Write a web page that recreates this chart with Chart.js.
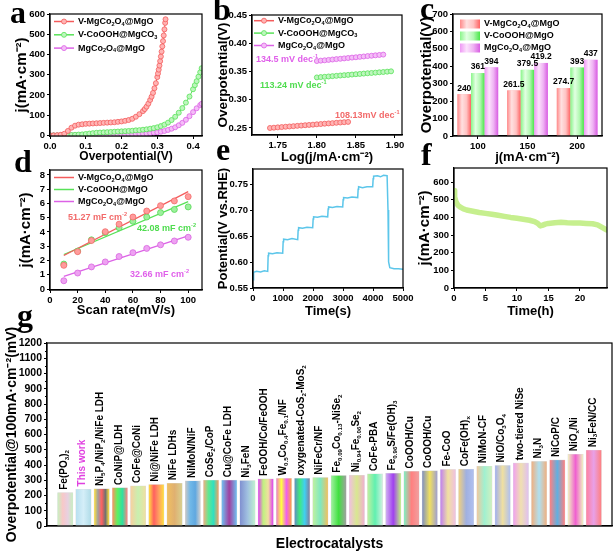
<!DOCTYPE html>
<html>
<head>
<meta charset="utf-8">
<script src="https://cdn.jsdelivr.net/npm/chart.js@4.4.1/dist/chart.umd.min.js"></script>
<style>
  body { margin: 0; background: #fff; }
  #wrap { position: relative; width: 614px; height: 553px; overflow: hidden; }
  #wrap canvas { position: absolute; }
</style>
</head>
<body>
<div id="wrap"></div>
<script>
const W = 614, H = 553;
const FONT = '"Liberation Sans", Arial, Helvetica, sans-serif';
const RED = '#f45c5c', RED_L = '#ffb4b4';
const GRN = '#58e258', GRN_L = '#bdf6bd';
const MAG = '#dc62e6', MAG_L = '#f4bdf7';

// ---- (a) LSV : [overpotential V, j mA/cm2]
const namesAB = ['V-MgCo_{2}O_{4}@MgO', 'V-CoOOH@MgCO_{3}', 'MgCo_{2}O_{4}@MgO'];
const namesCD = ['V-MgCo_{2}O_{4}@MgO', 'V-CoOOH@MgO', 'MgCo_{2}O_{4}@MgO'];
const lsvRed = [[0,0],[0.01,0],[0.02,1],[0.03,3],[0.04,8],[0.05,22],[0.06,38],[0.07,48],[0.08,53],[0.09,55],[0.10,57],[0.11,58],[0.12,59],[0.13,60],[0.14,61],[0.15,62],[0.16,63],[0.17,64],[0.18,65],[0.19,67],[0.20,69],[0.21,72],[0.22,76],[0.23,82],[0.24,92],[0.25,105],[0.26,120],[0.265,130],[0.27,142],[0.275,157],[0.28,175],[0.284,191],[0.288,210],[0.292,233],[0.296,258],[0.300,288],[0.302,306],[0.304,325],[0.306,345],[0.308,367],[0.310,390],[0.312,414],[0.314,440],[0.316,466],[0.318,494],[0.320,524],[0.322,556],[0.323,574]];
const lsvGreen = [[0,0],[0.01,0],[0.02,0],[0.03,0],[0.04,1],[0.05,1],[0.06,2],[0.07,3],[0.08,4],[0.09,5],[0.10,7],[0.11,9],[0.12,11],[0.13,13],[0.14,14],[0.15,15],[0.16,16],[0.17,17],[0.18,18],[0.19,19],[0.20,20],[0.21,21],[0.22,22],[0.23,23],[0.24,25],[0.25,26],[0.26,28],[0.27,30],[0.28,33],[0.29,36],[0.30,40],[0.31,46],[0.32,53],[0.33,63],[0.34,76],[0.35,92],[0.36,112],[0.37,135],[0.38,162],[0.39,192],[0.40,228],[0.405,248],[0.41,268],[0.415,290],[0.42,312],[0.424,332]];
const lsvMag = [[0,0],[0.01,0],[0.02,0],[0.03,0],[0.04,0],[0.05,0],[0.06,1],[0.07,1],[0.08,1],[0.09,1],[0.10,1],[0.11,1],[0.12,2],[0.13,2],[0.14,2],[0.15,2],[0.16,3],[0.17,3],[0.18,3],[0.19,4],[0.20,4],[0.21,4],[0.22,5],[0.23,5],[0.24,6],[0.25,7],[0.26,8],[0.27,9],[0.28,11],[0.29,13],[0.30,15],[0.31,18],[0.32,22],[0.33,27],[0.34,33],[0.35,40],[0.36,50],[0.37,62],[0.38,77],[0.39,95],[0.40,115],[0.41,134],[0.42,150],[0.424,156]];
const aXTicks = [0, 0.1, 0.2, 0.3, 0.4];
const aYTicks = [0, 100, 200, 300, 400, 500, 600];

// ---- (b) Tafel : [log j, overpotential V]
const tafelRed = [[1.740,0.2500],[1.745,0.2505],[1.750,0.2511],[1.755,0.2516],[1.760,0.2522],[1.765,0.2527],[1.770,0.2532],[1.775,0.2538],[1.780,0.2543],[1.785,0.2549],[1.790,0.2554],[1.795,0.2559],[1.800,0.2565],[1.805,0.2570],[1.810,0.2576],[1.815,0.2581],[1.820,0.2586],[1.825,0.2592],[1.830,0.2597],[1.835,0.2603],[1.840,0.2608]];
const tafelGreen = [[1.800,0.3395],[1.805,0.3401],[1.810,0.3406],[1.815,0.3412],[1.820,0.3418],[1.825,0.3423],[1.830,0.3429],[1.835,0.3435],[1.840,0.3440],[1.845,0.3446],[1.850,0.3452],[1.855,0.3457],[1.860,0.3463],[1.865,0.3469],[1.870,0.3474],[1.875,0.3480],[1.880,0.3486],[1.885,0.3491],[1.890,0.3497],[1.895,0.3503]];
const tafelMag = [[1.800,0.3685],[1.805,0.3692],[1.810,0.3698],[1.815,0.3705],[1.820,0.3712],[1.825,0.3719],[1.830,0.3725],[1.835,0.3732],[1.840,0.3739],[1.845,0.3746],[1.850,0.3752],[1.855,0.3759],[1.860,0.3766],[1.865,0.3773],[1.870,0.3779],[1.875,0.3786],[1.880,0.3793],[1.885,0.3799]];
const tafelSlopes = ['108.13mV dec^{-1}', '113.24 mV dec^{-1}', '134.5 mV dec^{-1}'];
const bXTicks = [1.75, 1.80, 1.85, 1.90];
const bYTicks = [0.25, 0.30, 0.35, 0.40, 0.45];

// ---- (c) overpotential at current densities
const currents = ['100', '150', '200'];
const etaRed = [240, 261.5, 274.7];
const etaGreen = [361, 379.5, 393];
const etaMag = [394, 419.2, 437];
const cYTicks = [0, 100, 200, 300, 400, 500, 600, 700];

// ---- (d) Cdl
const scanRates = [10, 20, 30, 40, 50, 60, 70, 80, 90, 100];
const cdlRed = [1.66, 2.62, 3.40, 4.02, 4.55, 5.05, 5.47, 5.85, 6.18, 6.48];
const cdlGreen = [1.75, 2.66, 3.45, 3.95, 4.30, 4.75, 5.05, 5.36, 5.58, 5.76];
const cdlMag = [0.58, 1.12, 1.55, 1.90, 2.28, 2.55, 2.85, 3.10, 3.37, 3.63];
const fitRed = [[10, 2.35], [100, 6.83]];
const fitGreen = [[10, 2.42], [100, 6.13]];
const fitMag = [[10, 0.89], [100, 3.73]];
const cdlValues = ['51.27 mF cm^{-2}', '42.08 mF cm^{-2}', '32.66 mF cm^{-2}'];
const dXTicks = [0, 20, 40, 60, 80, 100];
const dYTicks = [0, 1, 2, 3, 4, 5, 6, 7, 8];

// ---- (e) multi-step chronopotentiometry : [time s, potential V]
const ePotential = [[0,0.566],[20,0.580],[120,0.582],[250,0.581],[380,0.583],[490,0.582],[505,0.612],[520,0.617],[650,0.616],[800,0.618],[990,0.617],[1005,0.639],[1020,0.644],[1150,0.643],[1300,0.645],[1490,0.643],[1505,0.661],[1520,0.666],[1650,0.665],[1800,0.667],[1990,0.666],[2005,0.683],[2020,0.687],[2150,0.686],[2300,0.688],[2490,0.687],[2505,0.702],[2520,0.706],[2650,0.705],[2800,0.707],[2990,0.706],[3005,0.720],[3020,0.724],[3150,0.723],[3300,0.725],[3490,0.724],[3505,0.740],[3520,0.745],[3650,0.743],[3800,0.745],[3990,0.745],[4005,0.760],[4020,0.765],[4150,0.766],[4250,0.764],[4350,0.767],[4470,0.766],[4500,0.700],[4520,0.600],[4560,0.589],[4700,0.587],[4850,0.587],[5000,0.586]];
const eXTicks = [0, 1000, 2000, 3000, 4000, 5000];
const eYTicks = [0.55, 0.60, 0.65, 0.70, 0.75];

// ---- (f) stability : [time h, j]
const fCurrent = [[0,552],[0.1,515],[0.3,490],[0.6,470],[1,458],[1.5,448],[2,442],[3,435],[4,428],[5,423],[6,418],[7,412],[8,406],[9,400],[10,395],[11,390],[12,384],[12.8,376],[13.3,366],[13.7,352],[14.0,355],[14.5,362],[15,366],[16,370],[17,372],[18,370],[19,369],[20,368],[21,366],[22,364],[22.8,358],[23.3,348],[23.8,338],[24.2,330]];
const fXTicks = [0, 5, 10, 15, 20];
const fYTicks = [0, 100, 200, 300, 400, 500, 600];

// ---- (g) comparison
const catalysts = ['Fe(PO_{3})_{2}', 'This work', 'Ni_{5}P_{4}/NiP_{2}/NiFe LDH', 'CoNiP@LDH', 'CoFe@CoNi', 'Ni@NiFe LDH', 'NiFe LDHs', 'NiMoN/NiF', 'CoSe_{2}/CoP', 'Cu@CoFe LDH', 'Ni_{3}FeN', 'FeOOH/Co/FeOOH', 'W_{0.5}Co_{0.4}Fe_{0.1}/NF', 'oxygenated-CoS_{2}-MoS_{2}', 'NiFeCr/NF', 'Fe_{0.09}Co_{0.13}-NiSe_{2}', 'Ni_{0.94}Fe_{0.06}Se_{2}', 'CoFe-PBA', 'Fe_{0.96}S/Fe(OH)_{3}', 'CoOOH/Cu', 'CoOOH/Cu', 'Fe-CoO', 'CoFe(OH)_{x}', 'NiMoN-CF', 'NiO/Co_{3}O_{4}', 'two-tiered NiSe', 'Ni_{3}N', 'NiCoP/C', 'NiO_{x}/Ni', 'Ni_{3}FeN/CC'];
const catEta = [218, 240, 243, 250, 262, 271, 280, 295, 300, 300, 297, 308, 312, 312, 317, 330, 332, 341, 345, 358, 361, 370, 372, 392, 396, 412, 423, 432, 470, 497];
const gYTicks = [0, 100, 200, 300, 400, 500, 600, 700, 800, 900, 1000, 1100, 1200];

// bar stripe colours
const cStops = [['#ff8a8a', '#ffe0e0', '#ffc2c2', '#ff6262'], ['#8af58a', '#e2ffe2', '#b2f8b2', '#48e648'], ['#ee98f4', '#fce2fd', '#efb2f3', '#d85ce2']];
const stripes = [
  ['#c8f0c0', '#f8c8c8', '#e8d0e0', '#c8f0c0'], ['#b8e0f0', '#d4eef8', '#b0dce8'],
  ['#ffe040', '#a0a0a0', '#ff6060', '#707070', '#ffe040'], ['#ff9060', '#60f060', '#30e0a0', '#ff8080'],
  ['#f8d0a0', '#c8f0b0', '#f0e0a0'], ['#ffe040', '#ff6060', '#ffa060', '#ffe040'],
  ['#f0c060', '#e0b070', '#d8d090'], ['#c8c8c8', '#70b8e8', '#60a8e0', '#d0d0d0'],
  ['#f0b080', '#60e890', '#30e0c0', '#f0a060'], ['#70c0f0', '#a040a0', '#70c0f0'],
  ['#8090d0', '#a0c0e0', '#c0f0d0'], ['#e040f0', '#c0f080', '#f0e0a0', '#e040f0'],
  ['#f080c0', '#ffff40', '#f060f0', '#ffa040'], ['#6090c0', '#40e880', '#40d0f0', '#8080a0'],
  ['#c0f0a0', '#80e8c0', '#f0c060'], ['#a0f0a0', '#40e040', '#a0a0a0'],
  ['#f0c0e0', '#d8e890', '#f0b0d0'], ['#c0f0a0', '#60f0b0', '#d0f0e0'],
  ['#d0b0f0', '#a040f0', '#c0f080'], ['#80f0c0', '#ff8080', '#f0a0a0'],
  ['#8090c0', '#f0e060', '#a0a0d0'], ['#c080f0', '#f0e0a0', '#f0c0e0'],
  ['#f0d080', '#a0b0e0', '#b0c0f0'], ['#f0c8a0', '#a0f0d0', '#d0f0c0'],
  ['#a0b0f0', '#f0e0a0', '#b0c0f0'], ['#f0a0f0', '#f0e0b0', '#e0c0f0'],
  ['#f0b080', '#b0e0f0', '#f0b080'], ['#ff8080', '#60b0e0', '#ff8080'],
  ['#f0f0c0', '#f060d0', '#f0f0c0'], ['#ff80a0', '#e8a0e8', '#ff8080']
];

Chart.defaults.font.family = FONT;
Chart.defaults.font.weight = 'bold';
Chart.defaults.color = '#000';

// one canvas per panel, each only as big as its own panel
const wrap = document.getElementById('wrap');
function makeCanvas(box) {
  const c = document.createElement('canvas');
  c.width = box.w; c.height = box.h;
  c.style.left = box.x + 'px';
  c.style.top = box.y + 'px';
  wrap.appendChild(c);
  return c;
}

// "_{..}" subscript, "^{..}" superscript
function richParts(s) {
  const out = [];
  let buf = '', i = 0;
  while (i < s.length) {
    const c = s[i];
    if ((c === '_' || c === '^') && s[i + 1] === '{') {
      if (buf) out.push({t: buf, m: 0});
      buf = '';
      const j = s.indexOf('}', i);
      out.push({t: s.slice(i + 2, j), m: c === '_' ? 1 : -1});
      i = j + 1;
    } else { buf += c; i++; }
  }
  if (buf) out.push({t: buf, m: 0});
  return out;
}
const plain = s => richParts(s).map(p => p.t).join('');

function drawRich(ctx, s, x, y, size, color, align) {
  const parts = richParts(s);
  ctx.fillStyle = color;
  ctx.textBaseline = 'middle';
  ctx.textAlign = 'left';
  const fonts = parts.map(p => 'bold ' + (p.m ? size * 0.62 : size) + 'px ' + FONT);
  const widths = parts.map((p, k) => { ctx.font = fonts[k]; return ctx.measureText(p.t).width; });
  const total = widths.reduce((a, b) => a + b, 0);
  if (align === 'center') x -= total / 2;
  parts.forEach((p, k) => {
    ctx.font = fonts[k];
    const dy = p.m === 1 ? size * 0.3 : p.m === -1 ? -size * 0.38 : 0;
    ctx.fillText(p.t, x, y + dy);
    x += widths[k];
  });
}

function stripeGradient(ctx, x0, x1, stops) {
  const g = ctx.createLinearGradient(x0, 0, x1, 0);
  stops.forEach((c, k) => g.addColorStop(k / (stops.length - 1), c));
  return g;
}

function drawLegend(ctx, lg) {
  lg.items.forEach((it, i) => {
    const x = lg.x, y = lg.y + i * lg.gap;
    if (lg.style === 'box') {
      ctx.fillStyle = stripeGradient(ctx, x, x + 20, it.stops);
      ctx.fillRect(x, y - 4.5, 20, 9);
    } else {
      ctx.strokeStyle = it.color;
      ctx.lineWidth = 1.5;
      ctx.beginPath(); ctx.moveTo(x, y); ctx.lineTo(x + 20, y); ctx.stroke();
      if (lg.style === 'linePoint') {
        ctx.beginPath(); ctx.arc(x + 10, y, 2.5, 0, Math.PI * 2);
        ctx.fillStyle = it.fill; ctx.fill();
        ctx.lineWidth = 0.8; ctx.stroke();
      }
    }
    drawRich(ctx, it.text, x + 24, y, 9, '#000', 'left');
  });
}

// frame, legend, notes and panel letter (legend/notes/letter given in page coords)
function deco(box, cfg) {
  return {
    id: 'deco',
    afterDatasetsDraw(chart) {
      if (cfg.bars) {
        const ctx = chart.ctx;
        ctx.save();
        chart.data.datasets.forEach((ds, d) => {
          chart.getDatasetMeta(d).data.forEach((bar, i) => {
            const l = bar.x - bar.width / 2;
            ctx.fillStyle = stripeGradient(ctx, l, l + bar.width, cfg.bars(d, i));
            ctx.fillRect(l, bar.y, bar.width, bar.base - bar.y);
          });
        });
        ctx.restore();
      }
    },
    afterDraw(chart) {
      const ctx = chart.ctx, a = chart.chartArea;
      ctx.save();
      ctx.strokeStyle = '#000';
      ctx.lineWidth = 1.2;
      ctx.strokeRect(a.left, a.top, a.right - a.left, a.bottom - a.top);
      if (cfg.extra) cfg.extra(chart, ctx);
      ctx.translate(-box.x, -box.y);
      if (cfg.legend) drawLegend(ctx, cfg.legend);
      (cfg.notes || []).forEach(n => drawRich(ctx, n.text, n.x, n.y, 9, n.color, 'left'));
      if (cfg.letter) {
        ctx.font = 'bold 32px "Liberation Serif", "Times New Roman", serif';
        ctx.fillStyle = '#000';
        ctx.textBaseline = 'alphabetic';
        ctx.textAlign = 'left';
        ctx.fillText(cfg.letter[0], cfg.letter[1], cfg.letter[2]);
      }
      ctx.restore();
    }
  };
}

// place the plot box and axis titles (page coords) inside the panel canvas
function frame(p, box) {
  const lhY = p.ySize * 1.2, lhX = p.xSize * 1.2;
  const padL = p.yTitleX - lhY / 2;
  const xBottom = p.xTitleY + lhX / 2;
  return {
    padding: {left: padL - box.x, top: p.t - box.y, right: box.x + box.w - p.r, bottom: box.y + box.h - xBottom},
    yW: p.l - padL,
    xH: xBottom - p.b
  };
}

function axis(pos, size, o) {
  const horiz = pos === 'bottom';
  const showTicks = o.ticks !== null;
  const ax = {
    type: o.type || 'linear', position: pos, offset: !!o.offset, bounds: 'data',
    afterFit: s => { if (horiz) s.height = size; else s.width = size; },
    ticks: {display: showTicks, color: '#000', font: {size: o.tickSize || 9.5, weight: 'bold'}, padding: 2, maxRotation: 0, autoSkip: false},
    grid: {display: true, drawOnChartArea: false, drawTicks: showTicks, tickLength: 3, color: '#000', offset: false},
    border: {display: true, color: '#000', width: 1.2},
    title: {display: true, text: o.title, color: '#000', font: {size: o.titleSize, weight: 'bold'}, padding: 0}
  };
  if (o.min !== undefined) { ax.min = o.min; ax.max = o.max; }
  if (o.ticks) {
    ax.afterBuildTicks = s => { s.ticks = o.ticks.map(v => ({value: v})); };
    const fmt = o.fmt || (v => String(v));
    ax.ticks.callback = v => fmt(v);
  }
  return ax;
}

function baseOptions(f, scales) {
  return {
    responsive: false, animation: false,
    layout: {padding: f.padding},
    plugins: {legend: {display: false}, tooltip: {enabled: false}},
    scales: scales
  };
}

const toXY = arr => arr.map(p => ({x: p[0], y: p[1]}));

function pointLine(arr, color, fill, name) {
  return {
    label: plain(name), data: toXY(arr), showLine: true, borderColor: color, borderWidth: 1,
    pointRadius: 2.5, pointBorderWidth: 0.8, pointBackgroundColor: fill, pointBorderColor: color
  };
}

// ---------- a
const boxA = {x: 0, y: 0, w: 207, h: 168};
const fa = frame({l: 50, t: 14, r: 202, b: 136, yTitleX: 22, xTitleY: 157, ySize: 15, xSize: 12}, boxA);
new Chart(makeCanvas(boxA), {
  type: 'scatter',
  data: {datasets: [
    pointLine(lsvRed, RED, RED_L, namesAB[0]),
    pointLine(lsvGreen, GRN, GRN_L, namesAB[1]),
    pointLine(lsvMag, MAG, MAG_L, namesAB[2])
  ]},
  options: baseOptions(fa, {
    x: axis('bottom', fa.xH, {min: 0, max: 0.425, ticks: aXTicks, fmt: v => v.toFixed(1), title: 'Overpotential(V)', titleSize: 12}),
    y: axis('left', fa.yW, {min: -3, max: 600, ticks: aYTicks, title: 'j(mA·cm⁻²)', titleSize: 15})
  }),
  plugins: [deco(boxA, {
    letter: ['a', 10, 23],
    legend: {x: 54, y: 21.5, gap: 13.3, style: 'linePoint', items: [
      {text: namesAB[0], color: RED, fill: RED_L}, {text: namesAB[1], color: GRN, fill: GRN_L}, {text: namesAB[2], color: MAG, fill: MAG_L}]}
  })]
});

// ---------- b
const boxB = {x: 207, y: 0, w: 203, h: 168};
const fb = frame({l: 252, t: 15, r: 402, b: 135, yTitleX: 223, xTitleY: 157, ySize: 13.5, xSize: 13}, boxB);
new Chart(makeCanvas(boxB), {
  type: 'scatter',
  data: {datasets: [
    pointLine(tafelRed, RED, RED_L, namesAB[0]),
    pointLine(tafelGreen, GRN, GRN_L, namesAB[1]),
    pointLine(tafelMag, MAG, MAG_L, namesAB[2])
  ]},
  options: baseOptions(fb, {
    x: axis('bottom', fb.xH, {min: 1.717, max: 1.909, ticks: bXTicks, fmt: v => v.toFixed(2), title: 'Log(j/mA·cm⁻²)', titleSize: 13}),
    y: axis('left', fb.yW, {min: 0.2376, max: 0.45, ticks: bYTicks, fmt: v => v.toFixed(2), title: 'Overpotential(V)', titleSize: 13.5})
  }),
  plugins: [deco(boxB, {
    letter: ['b', 213, 20],
    legend: {x: 254, y: 20.7, gap: 12.4, style: 'linePoint', items: [
      {text: namesAB[0], color: RED, fill: RED_L}, {text: namesAB[1], color: GRN, fill: GRN_L}, {text: namesAB[2], color: MAG, fill: MAG_L}]},
    notes: [
      {text: tafelSlopes[2], x: 256, y: 60, color: '#e060ea'},
      {text: tafelSlopes[1], x: 260, y: 86, color: '#4fdc4f'},
      {text: tafelSlopes[0], x: 335, y: 116, color: '#f26a6a'}
    ]
  })]
});

// ---------- c
const boxC = {x: 410, y: 0, w: 204, h: 168};
const fc = frame({l: 453, t: 14, r: 602, b: 136, yTitleX: 427, xTitleY: 157, ySize: 15, xSize: 13}, boxC);
const cSets = [etaRed, etaGreen, etaMag];
new Chart(makeCanvas(boxC), {
  type: 'bar',
  data: {labels: currents, datasets: [
    {label: plain(namesCD[0]), data: etaRed, backgroundColor: RED_L},
    {label: plain(namesCD[1]), data: etaGreen, backgroundColor: GRN_L},
    {label: plain(namesCD[2]), data: etaMag, backgroundColor: MAG_L}
  ].map(d => Object.assign(d, {categoryPercentage: 0.82, barPercentage: 1, borderWidth: 0}))},
  options: baseOptions(fc, {
    x: axis('bottom', fc.xH, {type: 'category', offset: true, title: 'j(mA·cm⁻²)', titleSize: 13}),
    y: axis('left', fc.yW, {min: 0, max: 700, ticks: cYTicks, title: 'Overpotential(V)', titleSize: 15})
  }),
  plugins: [deco(boxC, {
    letter: ['c', 420, 18.5],
    bars: (d) => cStops[d],
    legend: {x: 460, y: 24, gap: 12, style: 'box', items: [
      {text: namesCD[0], stops: cStops[0]}, {text: namesCD[1], stops: cStops[1]}, {text: namesCD[2], stops: cStops[2]}]},
    extra: (chart, ctx) => {
      cSets.forEach((vals, d) => {
        chart.getDatasetMeta(d).data.forEach((bar, i) => {
          drawRich(ctx, String(vals[i]), bar.x, bar.y - 6, 8.5, '#000', 'center');
        });
      });
    }
  })]
});

// ---------- d
const boxD = {x: 0, y: 136, w: 207, h: 186};
const fd = frame({l: 50, t: 170, r: 202, b: 290, yTitleX: 26, xTitleY: 310, ySize: 15, xSize: 13}, boxD);
const cdlPts = (vals, color, fill) => ({
  data: scanRates.map((x, i) => ({x: x, y: vals[i]})), showLine: false,
  pointRadius: 3, pointBorderWidth: 0.8, pointBackgroundColor: fill, pointBorderColor: color
});
const fitLine = (arr, color) => ({data: toXY(arr), showLine: true, borderColor: color, borderWidth: 1.3, pointRadius: 0});
new Chart(makeCanvas(boxD), {
  type: 'scatter',
  data: {datasets: [
    cdlPts(cdlRed, '#f26a6a', '#ff9c9c'), cdlPts(cdlGreen, '#55d855', '#9cf09c'), cdlPts(cdlMag, '#d864e0', '#eea2f2'),
    fitLine(fitRed, RED), fitLine(fitGreen, GRN), fitLine(fitMag, MAG)
  ]},
  options: baseOptions(fd, {
    x: axis('bottom', fd.xH, {min: 0, max: 110, ticks: dXTicks, title: 'Scan rate(mV/s)', titleSize: 13}),
    y: axis('left', fd.yW, {min: -0.07, max: 8.35, ticks: dYTicks, title: 'j(mA·cm⁻²)', titleSize: 15})
  }),
  plugins: [deco(boxD, {
    letter: ['d', 14, 171.5],
    legend: {x: 54, y: 177.5, gap: 12, style: 'line', items: [
      {text: namesCD[0], color: RED}, {text: namesCD[1], color: GRN}, {text: namesCD[2], color: MAG}]},
    notes: [
      {text: cdlValues[0], x: 68, y: 218, color: '#f26a6a'},
      {text: cdlValues[1], x: 137, y: 229, color: '#4fdc4f'},
      {text: cdlValues[2], x: 130, y: 275, color: '#e060ea'}
    ]
  })]
});

// ---------- e
const boxE = {x: 207, y: 136, w: 213, h: 186};
const fe = frame({l: 253, t: 169, r: 403, b: 288, yTitleX: 223, xTitleY: 311, ySize: 13, xSize: 13}, boxE);
new Chart(makeCanvas(boxE), {
  type: 'scatter',
  data: {datasets: [{data: toXY(ePotential), showLine: true, borderColor: '#5cc6ea', borderWidth: 1.5, pointRadius: 0}]},
  options: baseOptions(fe, {
    x: axis('bottom', fe.xH, {min: 0, max: 5000, ticks: eXTicks, title: 'Time(s)', titleSize: 13}),
    y: axis('left', fe.yW, {min: 0.55, max: 0.779, ticks: eYTicks, fmt: v => v.toFixed(2), title: 'Potential(V vs.RHE)', titleSize: 13})
  }),
  plugins: [deco(boxE, {letter: ['e', 216, 160]})]
});

// ---------- f
const boxF = {x: 410, y: 136, w: 204, h: 186};
const ff = frame({l: 454, t: 168, r: 607, b: 288, yTitleX: 425, xTitleY: 311, ySize: 15, xSize: 13}, boxF);
new Chart(makeCanvas(boxF), {
  type: 'scatter',
  data: {datasets: [{data: toXY(fCurrent), showLine: true, borderColor: '#c6ef8e', borderWidth: 5.5, borderCapStyle: 'round', borderJoinStyle: 'round', pointRadius: 0}]},
  options: baseOptions(ff, {
    x: axis('bottom', ff.xH, {min: 0, max: 24.3, ticks: fXTicks, title: 'Time(h)', titleSize: 13}),
    y: axis('left', ff.yW, {min: 0, max: 680, ticks: fYTicks, title: 'j(mA·cm⁻²)', titleSize: 15})
  }),
  plugins: [deco(boxF, {letter: ['f', 421, 165]})]
});

// ---------- g
const boxG = {x: 0, y: 298, w: 614, h: 255};
const fg = frame({l: 47, t: 343, r: 612, b: 526, yTitleX: 12, xTitleY: 544, ySize: 14, xSize: 14}, boxG);
const highlight = catalysts.indexOf('This work');
new Chart(makeCanvas(boxG), {
  type: 'bar',
  data: {datasets: [{
    label: 'Overpotential', data: catEta.map((v, i) => ({x: i + 1, y: v})),
    backgroundColor: '#dddddd', borderWidth: 0, barThickness: 15
  }]},
  options: baseOptions(fg, {
    x: axis('bottom', fg.xH, {min: 0, max: 31, ticks: null, title: 'Electrocatalysts', titleSize: 14}),
    y: axis('left', fg.yW, {min: 0, max: 1200, ticks: gYTicks, tickSize: 10.5, title: 'Overpotential@100mA·cm⁻²(mV)', titleSize: 14})
  }),
  plugins: [deco(boxG, {
    letter: ['g', 17, 326],
    bars: (d, i) => stripes[i],
    extra: (chart, ctx) => {
      // minor ticks
      const y = chart.scales.y, left = chart.chartArea.left;
      ctx.strokeStyle = '#000'; ctx.lineWidth = 1;
      for (let v = 50; v < 1200; v += 100) {
        const py = Math.round(y.getPixelForValue(v)) + 0.5;
        ctx.beginPath(); ctx.moveTo(left - 2, py); ctx.lineTo(left, py); ctx.stroke();
      }
      chart.getDatasetMeta(0).data.forEach((bar, i) => {
        ctx.save();
        ctx.translate(bar.x - 1, bar.y - 3);
        ctx.rotate(-Math.PI / 2);
        drawRich(ctx, catalysts[i], 0, 0, 10, i === highlight ? '#e040e0' : '#000', 'left');
        ctx.restore();
      });
    }
  })]
});
</script>
</body>
</html>
